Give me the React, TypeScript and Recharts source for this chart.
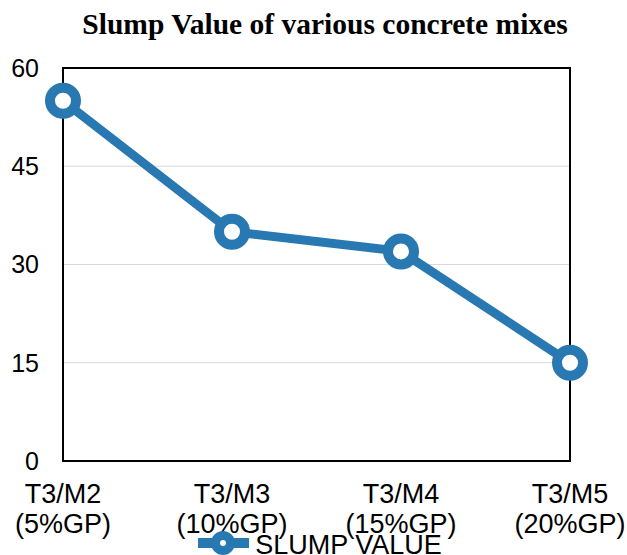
import React from 'react';
import { LineChart, Line, XAxis, YAxis, CartesianGrid, Legend, ReferenceArea } from 'recharts';

const categories = ['T3/M2\n(5%GP)', 'T3/M3\n(10%GP)', 'T3/M4\n(15%GP)', 'T3/M5\n(20%GP)'];
const slumpValues = [55, 35, 32, 15];
const yTicks = [0, 15, 30, 45, 60];
const seriesName = 'SLUMP VALUE';
const title = 'Slump Value of various concrete mixes';

const data = categories.map((c, i) => ({ name: c, slump: slumpValues[i] }));

const BLUE = '#2878b1';

const XTick = (props: any) => {
  const { x, y, payload } = props;
  const lines = String(payload.value).split('\n');
  return (
    <g>
      {lines.map((l, i) => (
        <text
          key={i}
          x={x}
          y={y + 42 + i * 30}
          textAnchor="middle"
          fontFamily="'Liberation Sans', Arial, sans-serif"
          fontSize={27}
          fill="#000"
        >
          {l}
        </text>
      ))}
    </g>
  );
};

const LegendContent = () => (
  <div style={{ display: 'flex', justifyContent: 'center', alignItems: 'center', height: 30, paddingLeft: 12 }}>
    <svg width={58} height={30} style={{ display: 'block' }}>
      <line x1={1} y1={18} x2={52} y2={18} stroke={BLUE} strokeWidth={10} />
      <circle cx={26} cy={18} r={7.5} fill="#fff" stroke={BLUE} strokeWidth={9} />
    </svg>
    <span style={{ fontFamily: "'Liberation Sans', Arial, sans-serif", fontSize: 27, color: '#000', lineHeight: '30px', marginTop: 10 }}>
      {seriesName}
    </span>
  </div>
);

export default function App() {
  return (
    <div style={{ position: 'absolute', left: 0, top: 0, width: 627, height: 555, background: '#fff', overflow: 'hidden' }}>
      <div
        style={{
          position: 'absolute',
          left: 0,
          top: 9,
          width: 650,
          textAlign: 'center',
          fontFamily: "'Liberation Serif', 'Times New Roman', serif",
          fontWeight: 'bold',
          fontSize: 29.5,
          lineHeight: '30px',
          color: '#000',
          whiteSpace: 'nowrap',
        }}
      >
        {title}
      </div>
      <LineChart width={627} height={555} data={data} margin={{ top: 68, right: 57, bottom: 0, left: 0 }}>
        <CartesianGrid vertical={false} stroke="#d9d9d9" strokeWidth={1} />
        <XAxis
          dataKey="name"
          padding={{ left: 0, right: 0 }}
          height={94}
          axisLine={false}
          tickLine={false}
          tickSize={0}
          tickMargin={0}
          interval={0}
          tick={<XTick />}
        />
        <YAxis
          domain={[0, 60]}
          ticks={yTicks}
          width={63}
          axisLine={false}
          tickLine={false}
          tickSize={0}
          tickMargin={24}
          tick={{ fontFamily: "'Liberation Sans', Arial, sans-serif", fontSize: 25, fill: '#000' }}
        />
        <ReferenceArea
          x1={categories[0]}
          x2={categories[categories.length - 1]}
          y1={0}
          y2={60}
          fill="none"
          stroke="#000"
          strokeWidth={2}
          fillOpacity={0}
          ifOverflow="visible"
        />
        <Line
          type="linear"
          dataKey="slump"
          name={seriesName}
          stroke={BLUE}
          strokeWidth={9}
          dot={{ r: 13, fill: '#fff', stroke: BLUE, strokeWidth: 10 }}
          activeDot={false}
          isAnimationActive={false}
        />
        <Legend
          layout="horizontal"
          verticalAlign="middle"
          align="center"
          wrapperStyle={{ top: 525, left: 0, width: 627 }}
          content={<LegendContent />}
        />
      </LineChart>
    </div>
  );
}
